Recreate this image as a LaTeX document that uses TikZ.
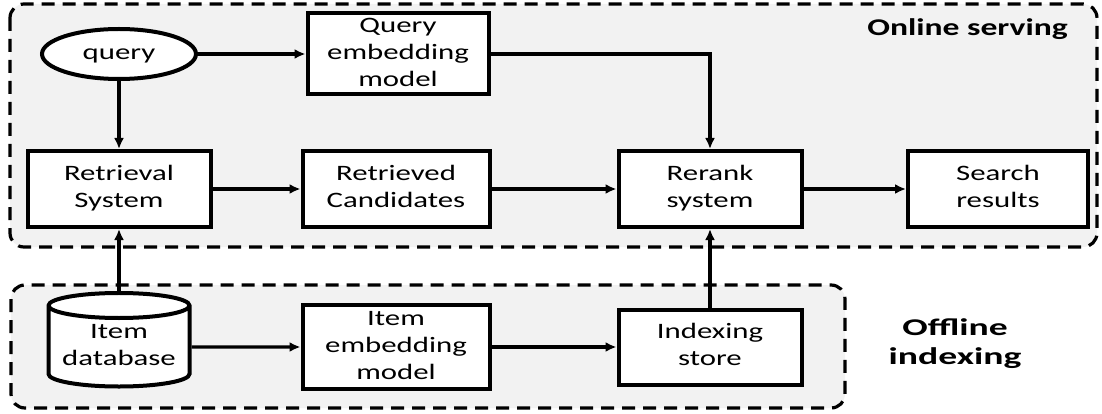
\documentclass[tikz,border=0pt]{standalone}
\usepackage{fontspec}
\setmainfont{Carlito}
\usepackage{graphicx}
\usetikzlibrary{arrows.meta,shapes.geometric}
\newcommand{\wt}[1]{\scalebox{1.4}[1]{\begin{tabular}{@{}c@{}}#1\end{tabular}}}
\definecolor{framegray}{HTML}{F2F2F2}
\tikzset{
  blk/.style={draw,line width=4pt,fill=white,minimum width=183pt,minimum height=76pt,inner sep=0pt,font=\fontsize{22}{27}\selectfont},
  arr/.style={line width=3.4pt,-{Latex[length=11pt,width=10pt]}},
  frame/.style={draw,dashed,dash pattern=on 13pt off 8pt,line width=3.2pt,fill=framegray,rounded corners=14pt},
  lbl/.style={font=\fontsize{24}{29}\selectfont\bfseries,inner sep=0pt}
}
\begin{document}
\begin{tikzpicture}[x=1pt,y=-1pt]
\useasboundingbox (0,0) rectangle (1102,414);
% frames
\draw[frame] (10,4) rectangle (1097,247);
\draw[frame] (11,285) rectangle (845,408);
\node[lbl,anchor=east] (online) at (1068,30) {\wt{Online serving}};
\node[lbl] (offline) at (955,344) {\scalebox{1.12}[1]{\wt{Offline\\indexing}}};
% online part
\node[blk,ellipse,minimum width=154pt,minimum height=50pt] (query) at (119,54) {\wt{query}};
\node[blk,minimum width=181pt,minimum height=78pt] (qem) at (398,54) {\wt{Query\\embedding\\model}};
\node[blk] (ret) at (119,189) {\wt{Retrieval\\System}};
\node[blk,minimum width=187pt] (cand) at (396,189) {\wt{Retrieved\\Candidates}};
\node[blk] (rerank) at (710,189) {\wt{Rerank\\system}};
\node[blk,minimum width=180pt] (res) at (998,189) {\wt{Search\\results}};
% offline part
\node[blk,cylinder,shape border rotate=90,aspect=0.22,minimum width=141pt,minimum height=86pt] (db) at (119,347) {\wt{Item\\database}};
\node[blk,minimum width=187pt,minimum height=84pt] (iem) at (396,347) {\wt{Item\\embedding\\model}};
\node[blk,minimum height=75pt] (idx) at (710,347) {\wt{Indexing\\store}};
% connectors
\draw[arr] (query) -- (qem);
\draw[arr] (query) -- (ret);
\draw[arr] (ret) -- (cand);
\draw[arr] (cand) -- (rerank);
\draw[arr] (rerank) -- (res);
\draw[arr] (qem.east) -| (rerank.north);
\draw[arr] (db) -- (ret);
\draw[arr] (db) -- (iem);
\draw[arr] (iem) -- (idx);
\draw[arr] (idx) -- (rerank);
\end{tikzpicture}
\end{document}
